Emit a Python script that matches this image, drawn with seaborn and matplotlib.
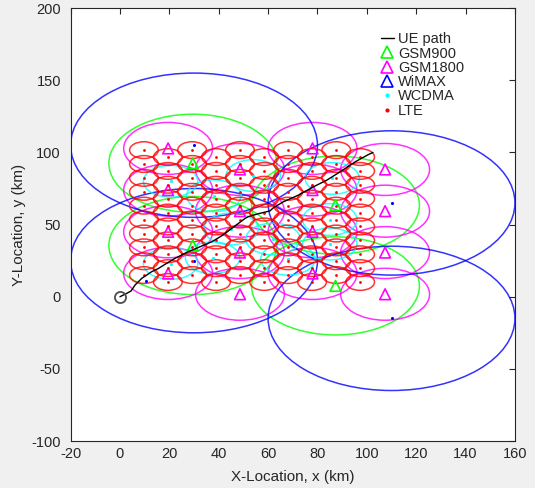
import matplotlib
matplotlib.use("Agg")
import matplotlib.pyplot as plt
from matplotlib.patches import Circle
from matplotlib.lines import Line2D
import pandas as pd
import seaborn as sns

# ---------------- data ----------------
# UE path
path_x = [0, 2.7, 4.5, 6.1, 8.8, 12.8, 15.5, 18.2, 22.3, 27.0, 32.4, 37.2, 41.2,
          45.3, 50.7, 52.0, 56.0, 60.8, 62.0, 66.2, 72.3, 78.4, 83.8, 89.2, 95.3,
          100.6, 102.5]
path_y = [0, 2.3, 4.0, 8.1, 12.7, 17.3, 19.5, 22.4, 26.6, 30.7, 34.6, 38.1, 42.2,
          47.4, 54.3, 55.5, 57.5, 59.5, 61.5, 65.8, 70.4, 76.2, 80.8, 86.6, 93.5,
          98.5, 100.0]

# GSM900 (green) cells
gsm900_x = [29.5, 29.5, 87.3, 87.3]
gsm900_y = [92.5, 35.5, 63.5, 7.5]
gsm900_r = 34

# GSM1800 (magenta) cells
gsm1800_x = [19.5, 19.5, 19.5, 19.5, 48.6, 48.6, 48.6, 48.6,
             78.0, 78.0, 78.0, 78.0, 107.4, 107.4, 107.4, 107.4]
gsm1800_y = [102.8, 73.9, 45.0, 16.1, 88.2, 59.3, 30.6, 1.7,
             102.8, 73.9, 45.0, 16.1, 88.2, 59.3, 30.6, 1.7]
gsm1800_r = 18

# WiMAX (blue) cells
wimax_x = [30, 30, 110, 110]
wimax_y = [105, 25, 65, -15]
wimax_r = 50
# extra blue point visible near the start of the path
blue_dot_x = [10.4]
blue_dot_y = [10.9]

# WCDMA (cyan) cells
wcdma_x = [20.5, 38.0, 54.0, 86.0, 85.0, 85.0, 20.5, 37.5, 62.0, 68.0, 45.0]
wcdma_y = [80.0, 70.0, 84.0, 82.0, 53.5, 36.5, 23.0, 27.0, 40.0, 26.0, 47.0]
wcdma_r = 11

# LTE (red) cells: column x positions and the two row sets
lte_cols_a = [9.7, 29.2, 48.6, 68.1, 87.6]
lte_cols_b = [19.4, 38.9, 58.4, 77.8, 97.3]
lte_rows_a = [101.6, 92.0, 82.4, 72.7, 63.1, 53.5, 43.8, 34.2, 24.6, 15.0]
lte_rows_b = [96.8, 87.2, 77.6, 67.9, 58.3, 48.7, 39.0, 29.4, 19.8, 10.2]
lte_r = 5.8

x_ticks = [-20, 0, 20, 40, 60, 80, 100, 120, 140, 160]
y_ticks = [-100, -50, 0, 50, 100, 150, 200]

# ---------------- tables ----------------
lte = pd.DataFrame(
    [(cx, cy) for cx in lte_cols_a for cy in lte_rows_a] +
    [(cx, cy) for cx in lte_cols_b for cy in lte_rows_b], columns=["x", "y"])
g900 = pd.DataFrame({"x": gsm900_x, "y": gsm900_y})
g1800 = pd.DataFrame({"x": gsm1800_x, "y": gsm1800_y})
wmx = pd.DataFrame({"x": wimax_x, "y": wimax_y})
bdot = pd.DataFrame({"x": blue_dot_x, "y": blue_dot_y})
wcd = pd.DataFrame({"x": wcdma_x, "y": wcdma_y})
ue = pd.DataFrame({"x": path_x, "y": path_y})

# ---------------- style ----------------
sns.set_style("white")
plt.rcParams["font.family"] = ["Liberation Sans", "DejaVu Sans"]
plt.rcParams["axes.unicode_minus"] = False

fig = plt.figure(figsize=(5.35, 4.88), dpi=100, facecolor="#f0f0f0")
ax = fig.add_axes([0.132, 0.0963, 0.8305, 0.887])
ax.set_facecolor("white")

GREEN = (0.0, 1.0, 0.0)
MAG = (1.0, 0.0, 1.0)
BLUE = (0.0, 0.0, 1.0)
CYAN = (0.0, 1.0, 1.0)
RED = (1.0, 0.0, 0.0)
lw = 1.1


def add_circles(df, r, color):
    for cx, cy in zip(df["x"], df["y"]):
        ax.add_patch(Circle((cx, cy), r, fill=False, edgecolor=color,
                            linewidth=lw, alpha=0.8))


add_circles(g900, gsm900_r, GREEN)
add_circles(g1800, gsm1800_r, MAG)
add_circles(wmx, wimax_r, BLUE)
add_circles(wcd, wcdma_r, CYAN)
add_circles(lte, lte_r, RED)

# centre markers
sns.scatterplot(data=g900, x="x", y="y", ax=ax, marker="^", s=60,
                facecolors="none", edgecolor=GREEN, linewidth=1.2, legend=False)
sns.scatterplot(data=g1800, x="x", y="y", ax=ax, marker="^", s=60,
                facecolors="none", edgecolor=MAG, linewidth=1.2, legend=False)
sns.scatterplot(data=pd.concat([wmx, bdot]), x="x", y="y", ax=ax, marker="o",
                s=5, color=BLUE, linewidth=0, legend=False)
sns.scatterplot(data=wcd, x="x", y="y", ax=ax, marker="o", s=5,
                color=CYAN, linewidth=0, legend=False)
sns.scatterplot(data=lte, x="x", y="y", ax=ax, marker="o", s=4,
                color=RED, linewidth=0, legend=False)

# UE path
sns.lineplot(data=ue, x="x", y="y", ax=ax, sort=False, color="black",
             linewidth=1.0, estimator=None)
ax.plot([path_x[0]], [path_y[0]], marker="o", markersize=8, mfc="none",
        mec=(0.3, 0.3, 0.3), mew=1.3, linestyle="none")

# axes
ax.set_xlim(-20, 160)
ax.set_ylim(-100, 200)
ax.set_xticks(x_ticks)
ax.set_yticks(y_ticks)
ax.tick_params(direction="in", top=True, right=True, length=4, width=0.8,
               labelsize=10.5, colors="#262626")
ax.tick_params(axis="y", pad=7)
ax.tick_params(axis="x", pad=4)
for s in ax.spines.values():
    s.set_color("#262626")
    s.set_linewidth(0.8)
ax.set_xlabel("X-Location, x (km)", fontsize=11, color="#262626", labelpad=7)
ax.set_ylabel("Y-Location, y (km)", fontsize=11, color="#262626", labelpad=4)

handles = [
    Line2D([0], [0], color="black", lw=1.0),
    Line2D([0], [0], marker="^", color=GREEN, mfc="none", ls="none", ms=8, mew=1.2),
    Line2D([0], [0], marker="^", color=MAG, mfc="none", ls="none", ms=8, mew=1.2),
    Line2D([0], [0], marker="^", color=BLUE, mfc="none", ls="none", ms=8, mew=1.2),
    Line2D([0], [0], marker="o", color=CYAN, ls="none", ms=2),
    Line2D([0], [0], marker="o", color=RED, ls="none", ms=2),
]
labels = ["UE path", "GSM900", "GSM1800", "WiMAX", "WCDMA", "LTE"]
ax.legend(handles, labels, loc="upper left", bbox_to_anchor=(0.675, 0.968),
          frameon=False, fontsize=10.5, handlelength=0.9, handletextpad=0.3,
          labelspacing=0.02, borderpad=0.2)

fig.savefig("out.png", dpi=100, facecolor=fig.get_facecolor())
